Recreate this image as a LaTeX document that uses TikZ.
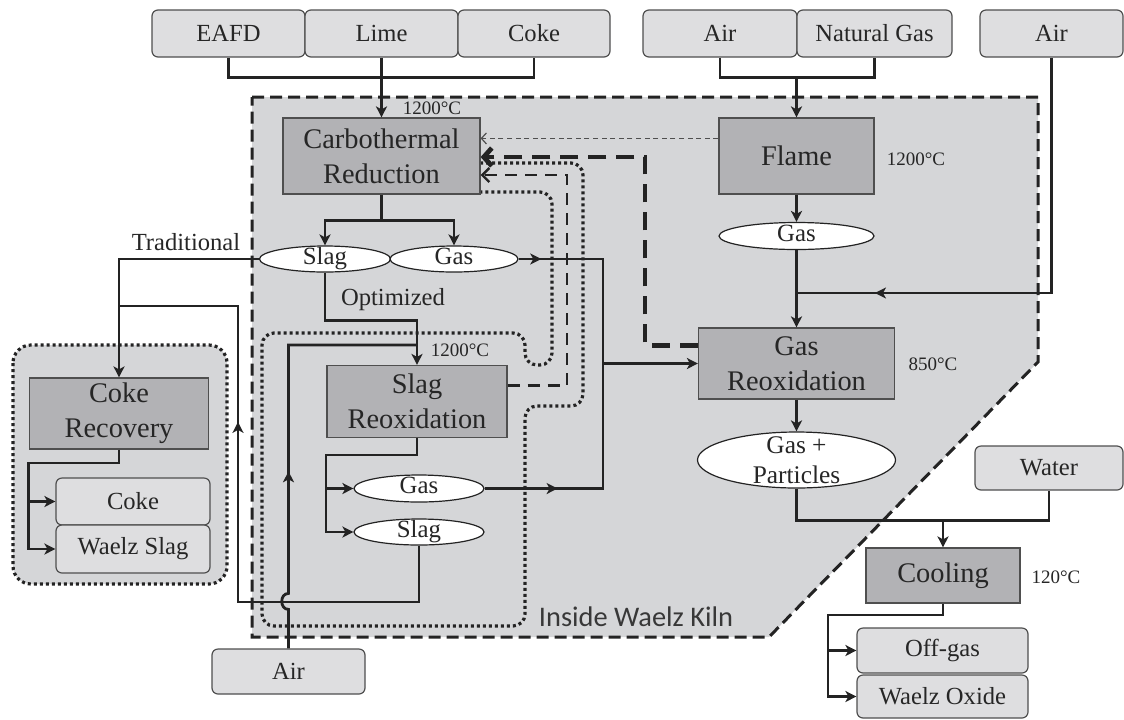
\documentclass[tikz,border=0pt]{standalone}
\usepackage{fontspec}
\setmainfont{Liberation Serif}
\newfontfamily\flowfont{Liberation Serif}
\newfontfamily\kilnfont{Carlito}
\usetikzlibrary{arrows.meta,positioning,calc,shapes.geometric,decorations.markings}
\tikzset{
    >=Stealth,
    every node/.style={inner sep=0pt, text=black!85}
}

\begin{document}
\begin{tikzpicture}[x=0.5pt,y=-0.5pt]
  % greys
  \definecolor{kilnColor}{RGB}{213,214,216}
  \definecolor{feedColor}{RGB}{222,222,224}
  \definecolor{stageColor}{RGB}{178,178,181}
  \definecolor{inkColor}{RGB}{35,35,35}

  % common styles
  \tikzset{
    feed/.style={draw=inkColor!80, line width=0.6pt, fill=feedColor,
      rounded corners=3pt, minimum height=23.5pt, font=\flowfont\fontsize{12.3}{14}\selectfont},
    stage/.style={draw=inkColor!80, line width=0.6pt, fill=stageColor,
      align=center, font=\flowfont\fontsize{14.2}{17.5}\selectfont},
    stream/.style={ellipse, draw=inkColor, line width=0.6pt, fill=white,
      inner ysep=-0.8pt, text height=8pt, text depth=2.6pt,
      font=\flowfont\fontsize{12.4}{14}\selectfont},
    bigstream/.style={ellipse, draw=inkColor, line width=0.6pt, fill=white,
      align=center, inner ysep=-2pt, font=\flowfont\fontsize{12.7}{15}\selectfont},
    temp/.style={font=\flowfont\fontsize{9.5}{11}\selectfont},
    note/.style={font=\flowfont\fontsize{12.3}{14}\selectfont},
    pipe/.style={draw=inkColor, line width=1.4pt},
    flow/.style={pipe, -{Stealth[length=5.5pt,width=5.5pt,inset=1.5pt]}},
    midarrow/.style={postaction={decorate, decoration={markings,
      mark=at position #1 with {\arrow{Stealth[length=5.5pt,width=5.5pt,inset=1.5pt]}}}}},
    kiln/.style={draw=inkColor, line width=1.5pt, dash pattern=on 6pt off 3pt, fill=kilnColor},
    zone/.style={draw=inkColor, line width=1.6pt, dash pattern=on 1.5pt off 1.5pt},
    faintback/.style={draw=inkColor!80, line width=0.6pt, dash pattern=on 2.5pt off 1.8pt,
      -{Straight Barb[length=2.5pt,width=5.5pt]}},
    slagback/.style={draw=inkColor, line width=1.2pt, dash pattern=on 6pt off 4pt,
      -{Straight Barb[length=3.5pt,width=7pt]}},
    gasback/.style={draw=inkColor, line width=2.4pt, dash pattern=on 9pt off 5pt,
      -{Straight Barb[length=4pt,width=9pt]}}
  }
  \useasboundingbox (0,0) rectangle (1124,719);

  % kiln outline and the two dotted zones
  \draw[kiln] (252,97) -- (1038,97) -- (1038,362) -- (769,637) -- (252,637) -- cycle;
  \draw[zone, fill=kilnColor, rounded corners=9pt] (13,345) rectangle (227,584);
  \draw[zone, rounded corners=6pt] (480,163) -- (583,163) -- (583,406) -- (525,406)
    -- (525,626) -- (262,626) -- (262,333) -- (525,333) -- (525,365) -- (552,365)
    -- (552,192) -- (480,192);

  % feeds and products
  \node[feed, minimum width=76.5pt] (eafd)     at (228.5,33.5)  {EAFD};
  \node[feed, minimum width=76.5pt] (lime)     at (381.5,33.5)  {Lime};
  \node[feed, minimum width=76pt]   (cokeIn)   at (534,33.5)    {Coke};
  \node[feed, minimum width=77pt]   (airFlame) at (720,33.5)    {Air};
  \node[feed, minimum width=77.5pt] (natGas)   at (874.5,33.5)  {Natural Gas};
  \node[feed, minimum width=71.5pt] (airOx)    at (1051.5,33.5) {Air};
  \node[feed, minimum width=74pt, minimum height=22pt]     (water)      at (1049,468)    {Water};
  \node[feed, minimum width=76.5pt, minimum height=22.5pt] (airSlag)    at (288.5,671.5) {Air};
  \node[feed, minimum width=85.5pt, minimum height=22.5pt] (offGas)     at (942.5,650.5) {Off-gas};
  \node[feed, minimum width=85.5pt, minimum height=21.5pt] (waelzOxide) at (942.5,696.5) {Waelz Oxide};
  \node[feed, minimum width=77pt]                          (cokeOut)    at (133,501.5)   {Coke};
  \node[feed, minimum width=77pt, minimum height=24pt]     (waelzSlag)  at (133,549)     {Waelz Slag};

  % process stages
  \node[stage, minimum width=98.5pt, minimum height=38pt]  (carbo)    at (381.5,156)   {Carbothermal\\Reduction};
  \node[stage, minimum width=77.5pt, minimum height=38pt]  (flame)    at (796.5,156)   {Flame};
  \node[stage, minimum width=98pt, minimum height=35.5pt]  (gasReox)  at (796.5,363.5) {Gas\\Reoxidation};
  \node[stage, minimum width=90pt, minimum height=36pt]    (slagReox) at (417,401.5)   {Slag\\Reoxidation};
  \node[stage, minimum width=89.5pt, minimum height=35.5pt](cokeRec)  at (119,413.5)   {Coke\\Recovery};
  \node[stage, minimum width=77pt, minimum height=27.5pt]  (cooling)  at (943,575.5)   {Cooling};

  % streams
  \node[stream, minimum width=65.5pt, minimum height=13pt]   (slagA)    at (325,259)     {Slag};
  \node[stream, minimum width=64pt, minimum height=13pt]     (gasA)     at (454,259)     {Gas};
  \node[stream, minimum width=77.5pt, minimum height=13.5pt] (gasFlame) at (796.5,236)   {Gas};
  \node[bigstream, minimum width=99pt, minimum height=28pt]  (gasPart)  at (796.5,460)   {Gas +\\Particles};
  \node[stream, minimum width=65pt, minimum height=13.5pt]   (gasB)     at (419,488.5)   {Gas};
  \node[stream, minimum width=65pt, minimum height=13pt]     (slagB)    at (419,532)     {Slag};

  % temperatures and route labels
  \node[temp] (tCarbo) at (432,108)  {1200°C};
  \node[temp] (tFlame) at (916,159)  {1200°C};
  \node[temp] (tSlag)  at (460,350)  {1200°C};
  \node[temp] (tGas)   at (933,364)  {850°C};
  \node[temp] (tCool)  at (1056,577) {120°C};
  \node[note] (trad)   at (186,242)  {Traditional};
  \node[note] (opt)    at (393,300)  {Optimized};
  \node[font=\kilnfont\fontsize{14.2}{16}\selectfont, text=black!78] (kilnLabel) at (636,617) {Inside Waelz Kiln};

  % feed lines
  \draw[pipe] (eafd.south) -- ++(0,20) -| (cokeIn.south);
  \draw[flow] (lime.south) -- (carbo.north);
  \draw[pipe] (airFlame.south) -- ++(0,20) -| (natGas.south);
  \draw[flow] ($(flame.north)+(0,-41)$) -- (flame.north);
  \draw[flow] (flame.south) -- (gasFlame.north);
  \draw[flow] (gasFlame.south) -- (gasReox.north);
  \coordinate (airMix) at (796.5,293);
  \draw[pipe, midarrow=0.84] (airOx.south) |- (airMix);
  \draw[flow] (gasReox.south) -- (gasPart.north);

  % cooling section
  \draw[pipe] (gasPart.south) -- ++(0,32) -| (water.south);
  \coordinate (coolFeed) at (943,520);
  \draw[flow] (coolFeed) -- (cooling.north);
  \coordinate (coolBranch) at (828,615);
  \draw[flow] (cooling.south) |- (coolBranch) |- (waelzOxide.west);
  \draw[flow] (coolBranch |- offGas.west) -- (offGas.west);

  % carbothermal products
  \draw[pipe] (carbo.south) -- ++(0,26) coordinate (carboSplit);
  \draw[flow] (carboSplit) -| (slagA.north);
  \draw[flow] (carboSplit) -| (gasA.north);
  \draw[flow] (slagA.west) -| (cokeRec.north);
  \draw[flow] (slagA.south) -- ++(0,48) -| (slagReox.north);

  % air into slag reoxidation, hopping over the return line
  \coordinate (airTurn) at (288.5,345);
  \draw[pipe, midarrow=0.42] (airSlag.north) -- ++(0,-39)
    .. controls +(-9,0) and +(-9,0) .. ++(0,-16) -- (airTurn) -- (airTurn -| slagReox.north);

  % slag reoxidation products
  \coordinate (reoxBranch) at (326,455);
  \draw[flow] (slagReox.south) |- (reoxBranch) |- (slagB.west);
  \draw[flow] (reoxBranch |- gasB.west) -- (gasB.west);

  % gas collector to gas reoxidation
  \coordinate (gasBus) at (603,363.5);
  \draw[pipe, midarrow=0.12] (gasA.east) -| (gasBus);
  \draw[pipe, midarrow=0.3] (gasB.east) -| (gasBus);
  \draw[flow] (gasBus) -- (gasReox.west);

  % reoxidised slag back to coke recovery
  \coordinate (returnLow) at (238,602);
  \coordinate (returnHigh) at (238,306);
  \draw[pipe, midarrow=0.64] (slagB.south) |- (returnLow) -- (returnHigh) -- (returnHigh -| cokeRec.north);

  % coke recovery products
  \coordinate (cokeBranch) at (28.5,463);
  \draw[flow] (cokeRec.south) |- (cokeBranch) |- (waelzSlag.west);
  \draw[flow] (cokeBranch |- cokeOut.west) -- (cokeOut.west);

  % heat fed back to the reduction
  \draw[faintback] ($(flame.north west)+(0,21)$) -- ($(carbo.north east)+(0,21)$);
  \coordinate (oxBack) at (645,157);
  \draw[gasback] ($(gasReox.north west)+(0,18)$) -| (oxBack) -- (oxBack -| carbo.east);
  \coordinate (slagBack) at (567,175);
  \draw[slagback] ($(slagReox.north east)+(0,20.5)$) -| (slagBack) -- (slagBack -| carbo.east);
\end{tikzpicture}
\end{document}
